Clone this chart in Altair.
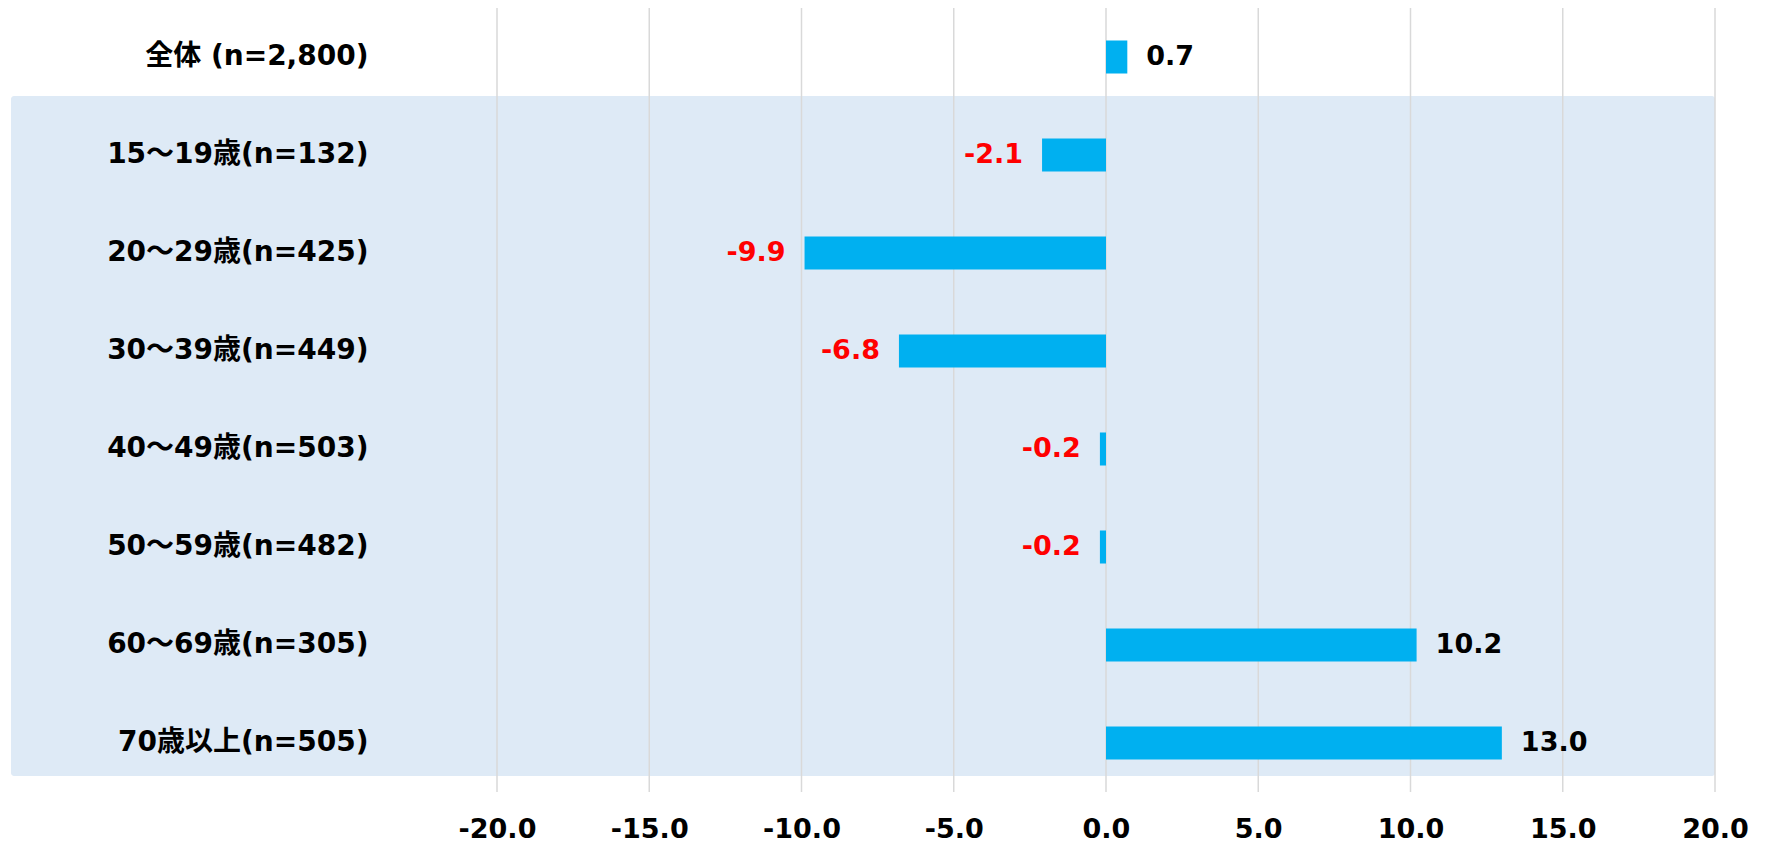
import altair as alt
import pandas as pd

categories = [
    "全体 (n=2,800)",
    "15～19歳(n=132)",
    "20～29歳(n=425)",
    "30～39歳(n=449)",
    "40～49歳(n=503)",
    "50～59歳(n=482)",
    "60～69歳(n=305)",
    "70歳以上(n=505)",
]
values = [0.7, -2.1, -9.9, -6.8, -0.2, -0.2, 10.2, 13.0]
tick_values = [-20, -15, -10, -5, 0, 5, 10, 15, 20]

df = pd.DataFrame({"cat": categories, "val": values})
ticks_df = pd.DataFrame({"t": tick_values})

FONT = "DejaVu Sans, Noto Sans CJK JP"
W, H = 1218, 784

xscale = alt.Scale(domain=[-20, 20], nice=False, zero=False)
xaxis = alt.Axis(
    values=tick_values, grid=False, ticks=False, domain=False,
    labelExpr="replace(format(datum.value, '.1f'), '\u2212', '-')",
    labelFont=FONT, labelFontSize=27, labelFontWeight="bold", labelColor="black",
    labelPadding=24, labelFlush=False, labelOverlap=False, title=None, zindex=1,
)
yenc = alt.Y(
    "cat:N", sort=categories,
    scale=alt.Scale(paddingInner=0.663, paddingOuter=0.3315),
    axis=alt.Axis(
        title=None, ticks=False, domain=False, grid=False,
        labelFont=FONT, labelFontSize=28, labelFontWeight="bold", labelColor="black",
        labelPadding=129, labelLimit=400, zindex=1,
    ),
)

bg = alt.Chart(alt.Data(values=[{"a": 1}])).mark_rect(
    color="#DEEAF6", cornerRadius=3
).encode(
    x=alt.value(-486), x2=alt.value(W), y=alt.value(88), y2=alt.value(768)
)

grid = alt.Chart(ticks_df).mark_rule(color="#D9D9D9", strokeWidth=1.5).encode(
    x=alt.X("t:Q", scale=xscale, axis=xaxis)
)

bars = alt.Chart(df).mark_bar(color="#00B0F0").encode(
    x=alt.X("val:Q", scale=xscale, axis=xaxis),
    x2=alt.datum(0),
    y=yenc,
)

label_calc = "replace(format(datum.val, '.1f'), '\u2212', '-')"

pos_text = alt.Chart(df).transform_filter("datum.val >= 0").transform_calculate(
    lbl=label_calc
).mark_text(
    align="left", baseline="middle", dx=19, font=FONT, fontSize=27,
    fontWeight="bold", color="black",
).encode(
    x=alt.X("val:Q", scale=xscale, axis=xaxis),
    y=yenc,
    text="lbl:N",
)

neg_text = alt.Chart(df).transform_filter("datum.val < 0").transform_calculate(
    lbl=label_calc
).mark_text(
    align="right", baseline="middle", dx=-19, font=FONT, fontSize=27,
    fontWeight="bold", color="#FF0000",
).encode(
    x=alt.X("val:Q", scale=xscale, axis=xaxis),
    y=yenc,
    text="lbl:N",
)

chart = alt.layer(bg, grid, bars, pos_text, neg_text).properties(
    width=W, height=H,
    padding={"left": 489, "top": 0, "right": 40, "bottom": 52},
    autosize=alt.AutoSizeParams(type="none"),
    background="white",
).configure_view(stroke=None)

chart.save("out.html", embed_options={"renderer": "svg", "actions": False})
